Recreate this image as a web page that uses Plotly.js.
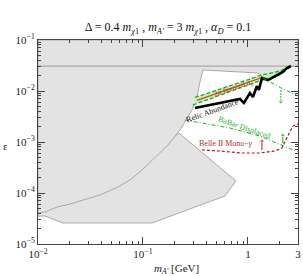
<!DOCTYPE html>
<html>
<head>
<meta charset="utf-8">
<script src="https://cdn.plot.ly/plotly-3.0.1.min.js"></script>
<style>html,body{margin:0;padding:0;background:#fff;}#plot{width:303px;height:276px;}</style>
</head>
<body>
<div id="plot"></div>
<script>
// ---- data (m_A' in GeV, epsilon) ----
const topBandX = [0.01, 3, 3, 0.01, 0.01];
const topBandY = [0.1, 0.1, 0.0309, 0.0309, 0.1];

const regionAX = [0.01, 0.389, 0.373, 0.349, 0.327, 0.293, 0.257, 0.225, 0.173, 0.130, 0.0978, 0.0752, 0.0578, 0.0389, 0.0293, 0.0202, 0.0152, 0.01166, 0.01, 0.01];
const regionAY = [0.0309, 0.0309, 0.0258, 0.0150, 0.00763, 0.00424, 0.00270, 0.00172, 0.000873, 0.000485, 0.000282, 0.000180, 0.000131, 9.14e-5, 7.62e-5, 6.08e-5, 5.31e-5, 4.24e-5, 4.06e-5, 0.0309];

const regionBX = [0.01, 0.01166, 0.0173, 0.122, 0.604, 0.768, 0.220, 0.0936, 0.01, 0.01];
const regionBY = [3.54e-5, 3.54e-5, 2.58e-5, 2.58e-5, 8.73e-5, 0.000172, 0.00150, 0.000354, 5.82e-5, 3.54e-5];

const regionDX = [0.373, 3, 2.57, 2.35, 2.15, 1.85, 1.55, 1.36, 1.245, 0.373];
const regionDY = [0.0309, 0.0309, 0.0309, 0.0283, 0.0236, 0.0197, 0.0172, 0.0197, 0.0226, 0.0258];

const g2UpperX = [0.313, 1.36, 2.02, 2.62];
const g2UpperY = [0.00746, 0.0206, 0.0247, 0.0309];
const g2LowerX = [0.299, 1.36, 1.62, 1.93, 2.25, 2.62];
const g2LowerY = [0.00531, 0.0164, 0.0172, 0.0197, 0.0247, 0.0309];
const g2CentralX = [0.327, 1.36];
const g2CentralY = [0.00652, 0.0184];

const relicX = [0.313, 0.485, 0.719, 0.839, 0.916, 1.045, 1.116, 1.218, 1.273, 1.36, 1.55, 1.85, 2.15, 2.35, 2.57];
const relicY = [0.00464, 0.00556, 0.00666, 0.00697, 0.00582, 0.00914, 0.00763, 0.01253, 0.0105, 0.0180, 0.0164, 0.0197, 0.0236, 0.0283, 0.0309];

const babarUpperX = [1.39, 2.06, 3.0];
const babarUpperY = [0.0180, 0.0115, 0.00798];

const babarDispX = [0.251, 0.674, 1.30, 3.0];
const babarDispY = [0.00270, 0.00188, 0.00131, 0.000637];

const belleX = [0.364, 0.541, 0.839, 1.30, 1.81, 2.11, 2.27, 2.51, 2.68, 3.0];
const belleY = [0.000697, 0.000666, 0.000609, 0.000609, 0.000666, 0.000762, 0.00105, 0.00157, 0.00205, 0.00225];

// arrows: [x, yTail, yHead]
const arrowGreenDown = [2.06, 0.0105, 0.00608];
const arrowGreenUp = [2.15, 0.000955, 0.00137];
const arrowRedUp = [1.36, 0.000697, 0.00105];

const xTickVals = [0.01, 0.1, 1, 3];
const xTickText = ['10<sup>−2</sup>', '10<sup>−1</sup>', '1', '3'];
const yTickVals = [1e-5, 1e-4, 1e-3, 1e-2, 1e-1];
const yTickText = ['10<sup>−5</sup>', '10<sup>−4</sup>', '10<sup>−3</sup>', '10<sup>−2</sup>', '10<sup>−1</sup>'];

// ---- styling ----
const GRAYFILL = '#e3e3e3';
const GRAYLINE = '#a9a9a9';
const GREEN = '#1fae1f';
const GREENFILL = '#c6eebc';
const RED = '#c0281e';
const DARKRED = '#b01c1c';
const FONT = 'Liberation Serif, Times New Roman, serif';

function minorVals(lo, hi) {
  const v = [];
  for (let e = lo; e < hi; e++) for (let k = 2; k <= 9; k++) v.push(k * Math.pow(10, e));
  return v;
}

const traces = [
  {x: regionBX, y: regionBY, mode: 'lines', fill: 'toself', fillcolor: GRAYFILL, line: {color: GRAYLINE, width: 1}, hoverinfo: 'skip'},
  {x: regionAX, y: regionAY, mode: 'lines', fill: 'toself', fillcolor: GRAYFILL, line: {color: GRAYLINE, width: 1}, hoverinfo: 'skip'},
  {x: regionDX, y: regionDY, mode: 'lines', fill: 'toself', fillcolor: GRAYFILL, line: {color: GRAYLINE, width: 1}, hoverinfo: 'skip'},
  {x: topBandX, y: topBandY, mode: 'lines', fill: 'toself', fillcolor: GRAYFILL, line: {color: GRAYLINE, width: 1}, hoverinfo: 'skip'},
  // g-2 band fill
  {x: g2UpperX.concat(g2LowerX.slice().reverse()), y: g2UpperY.concat(g2LowerY.slice().reverse()), mode: 'lines', fill: 'toself', fillcolor: GREENFILL, line: {width: 0, color: 'rgba(0,0,0,0)'}, hoverinfo: 'skip'},
  {x: g2UpperX, y: g2UpperY, mode: 'lines', line: {color: GREEN, width: 1.3, dash: '4px,2px'}},
  {x: g2LowerX, y: g2LowerY, mode: 'lines', line: {color: GREEN, width: 1.3, dash: '4px,2px'}},
  {x: g2CentralX, y: g2CentralY, mode: 'lines', line: {color: '#c84a14', width: 1.3}},
  // relic
  {x: relicX, y: relicY, mode: 'lines', line: {color: '#000', width: 2.6}},
  // BaBar upper dash-dot
  {x: babarUpperX, y: babarUpperY, mode: 'lines', line: {color: GREEN, width: 1, dash: '4px,2px,1px,2px'}},
  // BaBar displaced
  {x: babarDispX, y: babarDispY, mode: 'lines', line: {color: GREEN, width: 1, dash: '4px,2px,1px,2px'}},
  // Belle II
  {x: belleX, y: belleY, mode: 'lines', line: {color: DARKRED, width: 1.2, dash: '3px,2px'}},
  // arrows
  {x: [arrowGreenDown[0], arrowGreenDown[0]], y: [arrowGreenDown[1], arrowGreenDown[2]], mode: 'lines+markers', line: {color: GREEN, width: 1, dash: '2px,1px'}, marker: {symbol: ['circle', 'triangle-down'], size: [0, 5], color: GREEN}},
  {x: [arrowGreenUp[0], arrowGreenUp[0]], y: [arrowGreenUp[1], arrowGreenUp[2]], mode: 'lines+markers', line: {color: GREEN, width: 1}, marker: {symbol: ['circle', 'triangle-up'], size: [0, 5], color: GREEN}},
  {x: [arrowRedUp[0], arrowRedUp[0]], y: [arrowRedUp[1], arrowRedUp[2]], mode: 'lines+markers', line: {color: DARKRED, width: 1}, marker: {symbol: ['circle', 'triangle-up'], size: [0, 5], color: DARKRED}}
];

const layout = {
  width: 303, height: 276,
  margin: {l: 38, r: 5, t: 40, b: 32},
  paper_bgcolor: '#fff', plot_bgcolor: '#fff',
  showlegend: false,
  font: {family: FONT, size: 11, color: '#222'},
  title: {
    text: 'Δ = 0.4 <i>m</i><sub><i>χ</i>1</sub> , <i>m</i><sub><i>A\'</i></sub> = 3 <i>m</i><sub><i>χ</i>1</sub> , <i>α</i><sub><i>D</i></sub> = 0.1',
    font: {family: FONT, size: 12, color: '#111'},
    xref: 'paper', x: 0.5, xanchor: 'center',
    yref: 'container', y: 1 - 27 / 276, yanchor: 'middle'
  },
  xaxis: {
    type: 'log', range: [-2, Math.log10(3)],
    tickmode: 'array', tickvals: xTickVals, ticktext: xTickText,
    ticks: 'inside', ticklen: 7, tickwidth: 1, tickcolor: '#444',
    showline: true, linecolor: '#444', linewidth: 1, mirror: 'ticks',
    showgrid: false, zeroline: false,
    tickfont: {family: FONT, size: 11, color: '#222'},
    minor: {tickmode: 'array', tickvals: minorVals(-2, 1).filter(v => v <= 3), ticks: 'inside', ticklen: 3, tickcolor: '#444', showgrid: false},
    title: {text: ''}
  },
  yaxis: {
    type: 'log', range: [-5, -1],
    tickmode: 'array', tickvals: yTickVals, ticktext: yTickText,
    ticks: 'inside', ticklen: 7, tickwidth: 1, tickcolor: '#444',
    showline: true, linecolor: '#444', linewidth: 1, mirror: 'ticks',
    showgrid: false, zeroline: false,
    tickfont: {family: FONT, size: 11, color: '#222'},
    minor: {tickmode: 'array', tickvals: minorVals(-5, -1), ticks: 'inside', ticklen: 3, tickcolor: '#444', showgrid: false},
    title: {text: ''}
  },
  annotations: [
    // axis titles
    {text: '<i>m</i><sub><i>A\'</i></sub> [GeV]', xref: 'paper', yref: 'paper', x: (176 - 38) / 260, y: -(269 - 244) / 204, xanchor: 'center', yanchor: 'middle', showarrow: false, font: {family: FONT, size: 11, color: '#222'}},
    {text: 'ε', xref: 'paper', yref: 'paper', x: (5 - 38) / 260, y: (244 - 146) / 204, xanchor: 'center', yanchor: 'middle', showarrow: false, font: {family: FONT, size: 11, color: '#222'}},
    // in-plot labels (x, y in log10 units)
    {text: 'Relic Abundance', x: -0.333, y: -2.392, xref: 'x', yref: 'y', showarrow: false, textangle: -20, font: {family: FONT, size: 8, color: '#111'}},
    {text: '2σ favored <i>a</i><sub><i>μ</i></sub>', x: -0.133, y: -1.941, xref: 'x', yref: 'y', showarrow: false, textangle: -19, font: {family: FONT, size: 7.5, color: RED}},
    {text: 'BaBar Displaced', x: -0.038, y: -2.725, xref: 'x', yref: 'y', showarrow: false, textangle: 19, font: {family: FONT, size: 8, color: GREEN}},
    {text: 'Belle II Mono−<i>γ</i>', x: -0.210, y: -3.039, xref: 'x', yref: 'y', showarrow: false, font: {family: FONT, size: 8, color: RED}}
  ]
};

Plotly.newPlot('plot', traces, layout, {staticPlot: true, displayModeBar: false});
</script>
</body>
</html>
